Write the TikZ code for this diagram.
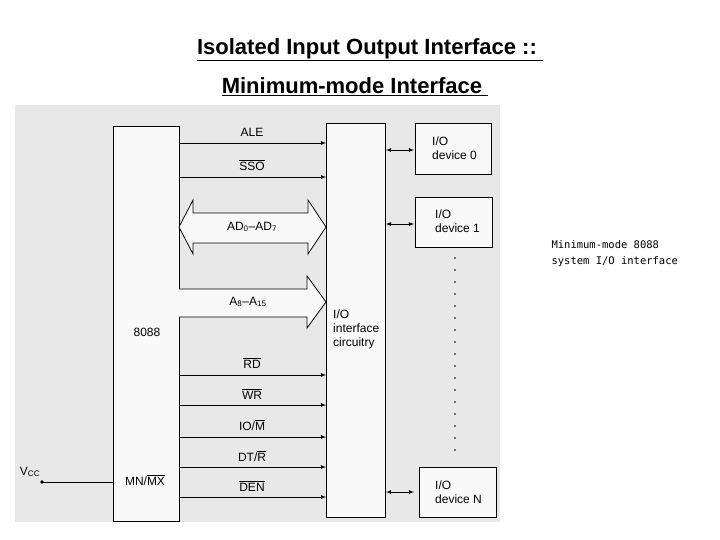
\documentclass[tikz,border=0pt]{standalone}
\usepackage{fontspec}
\setmainfont{Liberation Sans}
\newfontfamily\capfont{DejaVu Sans Mono}
\begin{document}
\begin{tikzpicture}[x=1pt,y=-1pt,
  blk/.style={draw,line width=0.8pt,fill=white!95!gray},
  sig/.style={line width=0.8pt,-latex},
  lbl/.style={font=\fontsize{12}{14}\selectfont,inner sep=0pt},
  bus/.style={draw,line width=0.8pt,fill=white!95!gray}]
\useasboundingbox (0,0) rectangle (720,540);
\fill[gray!18] (15,105) rectangle (500,522);
\node[font=\bfseries\fontsize{22}{26}\selectfont,inner sep=0pt] (t1) at (370,50) {\underline{Isolated Input Output Interface ::\ }};
\node[font=\bfseries\fontsize{22}{26}\selectfont,inner sep=0pt] (t2) at (355,87) {\underline{Minimum-mode Interface\ }};
\node[font=\capfont\fontsize{10.5}{16}\selectfont,align=left,anchor=west] (cap) at (548,254) {Minimum-mode 8088\\system I/O interface};
% boxes
\draw[blk] (113,126) rectangle (179,521);
\coordinate (cpuL) at (113,482);
\draw[blk] (326,123) rectangle (385,517);
\draw[blk] (415,123) rectangle (491,174);
\draw[blk] (415,197) rectangle (492,247);
\draw[blk] (419,467) rectangle (496,517);
\node[lbl] (cpu) at (147,332) {8088};
\node[lbl] (mn) at (145,480) {MN/$\overline{\mbox{MX}}$};
\node[lbl,align=left,anchor=west] (ioc) at (333,329) {I/O\\interface\\circuitry};
\node[lbl,align=left,anchor=west] (d0) at (432,148) {I/O\\device 0};
\node[lbl,align=left,anchor=west] (d1) at (435,221) {I/O\\device 1};
\node[lbl,align=left,anchor=west] (dn) at (435,492) {I/O\\device N};
% vcc
\node[lbl] (vcc) at (30,472) {V\textsubscript{\fontsize{8}{9}\selectfont CC}};
\fill (42,482) circle (1.8) coordinate (vd);
\draw[line width=0.8pt] (vd) -- (cpuL);
% signals
\foreach \y/\t/\ly in {143/{ALE}/132,177/{$\overline{\mbox{SSO}}$}/165,375/{$\overline{\mbox{RD}}$}/363,405/{$\overline{\mbox{WR}}$}/394,437/{IO/$\overline{\mbox{M}}$}/425,467/{DT/$\overline{\mbox{R}}$}/456,497/{$\overline{\mbox{DEN}}$}/486}{
  \draw[sig] (179,\y) -- (326,\y);
  \node[lbl] at (252,\ly) {\t};
}
% AD bus
\draw[bus] (179,227) -- (193,200) -- (193,213) -- (308,213) -- (308,200) -- (326,227) -- (308,254) -- (308,243) -- (193,243) -- (193,254) -- cycle;
\node[lbl] (ad) at (252,227) {AD\textsubscript{0}--AD\textsubscript{7}};
% A bus
\draw[bus] (179,289) -- (307,289) -- (307,276) -- (326,302) -- (307,328) -- (307,317) -- (179,317);
\node[lbl] (ab) at (248,302) {A\textsubscript{8}--A\textsubscript{15}};
% device arrows
\foreach \y in {150,224,492}{\draw[line width=0.8pt,latex-latex] (386,\y) -- (414,\y);}
\foreach \y in {258,270,...,454}{\fill (455,\y) circle (0.9);}
\end{tikzpicture}
\end{document}
